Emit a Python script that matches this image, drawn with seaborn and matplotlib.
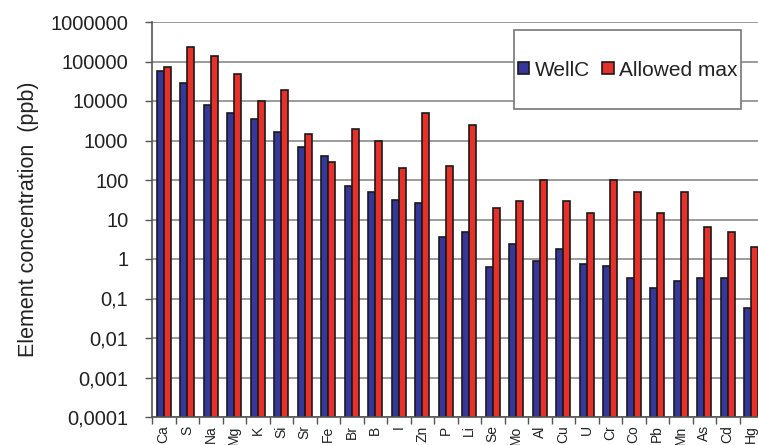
import matplotlib
matplotlib.use("Agg")
import matplotlib.pyplot as plt
from matplotlib.patches import Patch, Rectangle
from matplotlib.ticker import FixedLocator
import numpy as np
import pandas as pd
import seaborn as sns

elements = ["Ca", "S", "Na", "Mg", "K", "Si", "Sr", "Fe", "Br", "B", "I", "Zn", "P",
            "Li", "Se", "Mo", "Al", "Cu", "U", "Cr", "Co", "Pb", "Mn", "As", "Cd", "Hg"]
wellc = [57000, 28000, 8000, 5000, 3600, 1650, 700, 400, 72, 49, 31, 26, 3.7,
         4.9, 0.62, 2.4, 0.9, 1.8, 0.75, 0.66, 0.33, 0.18, 0.27, 0.33, 0.33, 0.056]
allowed_max = [72000, 230000, 140000, 48000, 10000, 19000, 1450, 290, 1900, 1000, 200, 5000, 230,
               2500, 20, 30, 100, 30, 15, 100, 50, 15, 50, 6.5, 4.7, 2]
series_names = ["WellC", "Allowed max"]
series_colors = ["#35379a", "#e8302a"]
ytick_values = [1e-4, 1e-3, 1e-2, 1e-1, 1, 10, 100, 1e3, 1e4, 1e5, 1e6]
ytick_labels = ["0,0001", "0,001", "0,01", "0,1", "1", "10", "100", "1000",
                "10000", "100000", "1000000"]

df = pd.DataFrame({
    "element": elements * 2,
    "value": wellc + allowed_max,
    "series": [series_names[0]] * len(elements) + [series_names[1]] * len(elements),
})

sns.set_style("white")
plt.rcParams["font.family"] = ["Liberation Sans", "DejaVu Sans"]

W, H = 758, 445
fig = plt.figure(figsize=(W / 100, H / 100), dpi=100)
ax = fig.add_axes([152 / W, 28 / H, 611 / W, 395 / H])

sns.barplot(data=df, x="element", y="value", hue="series", order=elements,
            hue_order=series_names, palette=series_colors, width=0.6, gap=0,
            edgecolor="#1a1a1a", linewidth=1.2, saturation=1, ax=ax, legend=False)

ax.set_yscale("log")
ax.set_ylim(1e-4, 1e6)
ax.set_xlim(-0.5, len(elements) - 0.5)
ax.yaxis.set_major_locator(FixedLocator(ytick_values))
ax.set_yticklabels(ytick_labels)
ax.yaxis.set_minor_locator(FixedLocator([]))
ax.set_axisbelow(True)
ax.grid(axis="y", color="#8a8a8a", linewidth=1.2)

for side in ["top", "right"]:
    ax.spines[side].set_visible(False)
for side in ["left", "bottom"]:
    ax.spines[side].set_color("#555555")
    ax.spines[side].set_linewidth(1.2)

ax.tick_params(axis="y", which="major", left=True, length=5, width=1, color="#555555",
               pad=12, labelsize=14.5, labelcolor="#222222")
ax.tick_params(axis="x", which="major", bottom=False, length=0, pad=6,
               labelsize=10, labelrotation=90, labelcolor="#222222")
ax.xaxis.set_minor_locator(FixedLocator(np.arange(-0.5, len(elements), 1.0)))
ax.tick_params(axis="x", which="minor", bottom=True, length=5, width=1, color="#555555")

ax.set_xlabel("")
ax.set_ylabel("Element concentration  (ppb)", fontsize=15.5, color="#222222", labelpad=8)

# legend box drawn as a plain rectangle, entries placed inside it
box = Rectangle((514 / W, 1 - 109 / H), (741 - 514) / W, (109 - 30) / H,
                transform=fig.transFigure, facecolor="white", edgecolor="#777777",
                linewidth=1.2, zorder=5)
fig.add_artist(box)

handles = [Patch(facecolor=c, edgecolor="#1a1a1a", linewidth=1.2) for c in series_colors]
leg = fig.legend(handles, series_names, ncol=2, loc="center left",
                 bbox_to_anchor=(518 / W, 1 - 70 / H), fontsize=15,
                 frameon=False, borderpad=0, handlelength=0.55,
                 handleheight=0.55, handletextpad=0.25, columnspacing=0.6,
                 borderaxespad=0)
leg.set_zorder(6)
for t in leg.get_texts():
    t.set_color("#222222")

fig.savefig("out.png", dpi=100)
